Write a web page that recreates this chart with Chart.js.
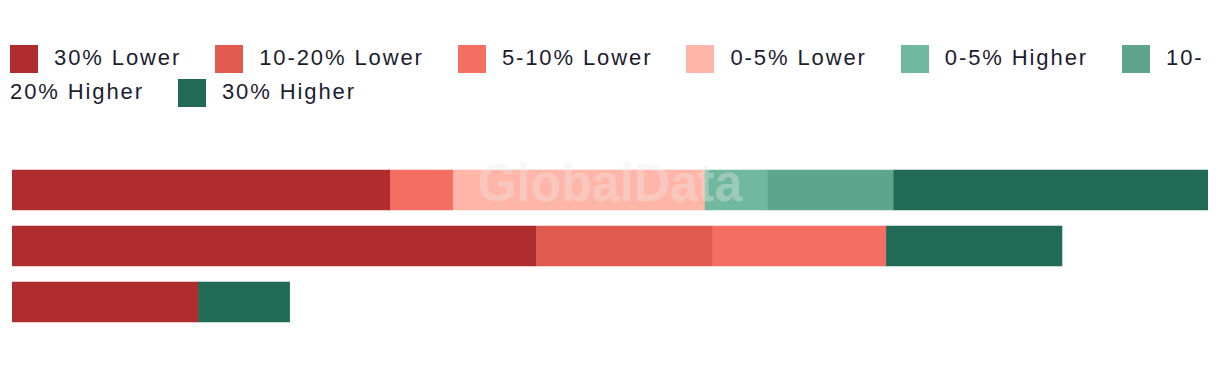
<!DOCTYPE html>
<html>
<head>
<meta charset="utf-8">
<script src="https://cdn.jsdelivr.net/npm/chart.js@4.4.1/dist/chart.umd.min.js"></script>
<style>
  html, body { margin: 0; padding: 0; background: #ffffff; }
  body { width: 1220px; height: 366px; position: relative; overflow: hidden; }
  #chartWrap { position: absolute; left: 0; top: 0; width: 1220px; height: 366px; }
  #legend {
    position: absolute; left: 10px; top: 41px; width: 1200px;
    font-family: "Liberation Sans", Arial, sans-serif; font-size: 22px;
    letter-spacing: 1.9px; line-height: 34px; color: #1c1c30;
  }
  #legend .item { margin-right: 26px; }
  #legend .sw {
    display: inline-block; width: 28px; height: 28px; margin-right: 16px;
    vertical-align: -8px;
  }
</style>
</head>
<body>
<div id="legend"></div>
<div id="chartWrap"><canvas id="c"></canvas></div>
<script>
const categories = ["Group 1", "Group 2", "Group 3"];
const seriesNames = ["30% Lower", "10-20% Lower", "5-10% Lower", "0-5% Lower", "0-5% Higher", "10-20% Higher", "30% Higher"];
const seriesColors = ["#AF2C2F", "#E05A4E", "#F56E62", "#FFB5A8", "#70B8A0", "#5FA58E", "#216A56"];
const lower30  = [6,    8.32, 2.95];
const lower10  = [0,    2.80, 0];
const lower5   = [1,    2.76, 0];
const lower0   = [4,    0,    0];
const higher0  = [1,    0,    0];
const higher10 = [2,    0,    0];
const higher30 = [5,    2.80, 1.46];
const xMax = 19;

const seriesValues = [lower30, lower10, lower5, lower0, higher0, higher10, higher30];

const datasets = seriesNames.map((name, i) => ({
  label: name,
  data: seriesValues[i],
  backgroundColor: seriesColors[i],
  borderWidth: 0,
  barThickness: 40
}));

const watermark = {
  id: 'watermark',
  afterDatasetsDraw(chart) {
    const { ctx, chartArea } = chart;
    ctx.save();
    ctx.font = 'bold 54px "Liberation Sans", Arial, sans-serif';
    ctx.fillStyle = 'rgba(235,235,235,0.35)';
    ctx.textAlign = 'center';
    ctx.textBaseline = 'alphabetic';
    ctx.fillText('GlobalData', (chartArea.left + chartArea.right) / 2, chartArea.top + 39, 265);
    ctx.restore();
  }
};

const chart = new Chart(document.getElementById('c'), {
  type: 'bar',
  data: { labels: categories, datasets },
  options: {
    indexAxis: 'y',
    responsive: true,
    maintainAspectRatio: false,
    animation: false,
    layout: { padding: { left: 12, right: 12, top: 162, bottom: 36 } },
    scales: {
      x: { stacked: true, display: false, min: 0, max: xMax },
      y: { stacked: true, display: false }
    },
    plugins: {
      legend: { display: false },
      tooltip: { enabled: true }
    }
  },
  plugins: [watermark]
});

const legendEl = document.getElementById('legend');
chart.data.datasets.forEach(ds => {
  const item = document.createElement('span');
  item.className = 'item';
  const sw = document.createElement('span');
  sw.className = 'sw';
  sw.style.background = ds.backgroundColor;
  item.appendChild(sw);
  item.appendChild(document.createTextNode(ds.label));
  legendEl.appendChild(item);
  legendEl.appendChild(document.createTextNode(' '));
});
</script>
</body>
</html>
